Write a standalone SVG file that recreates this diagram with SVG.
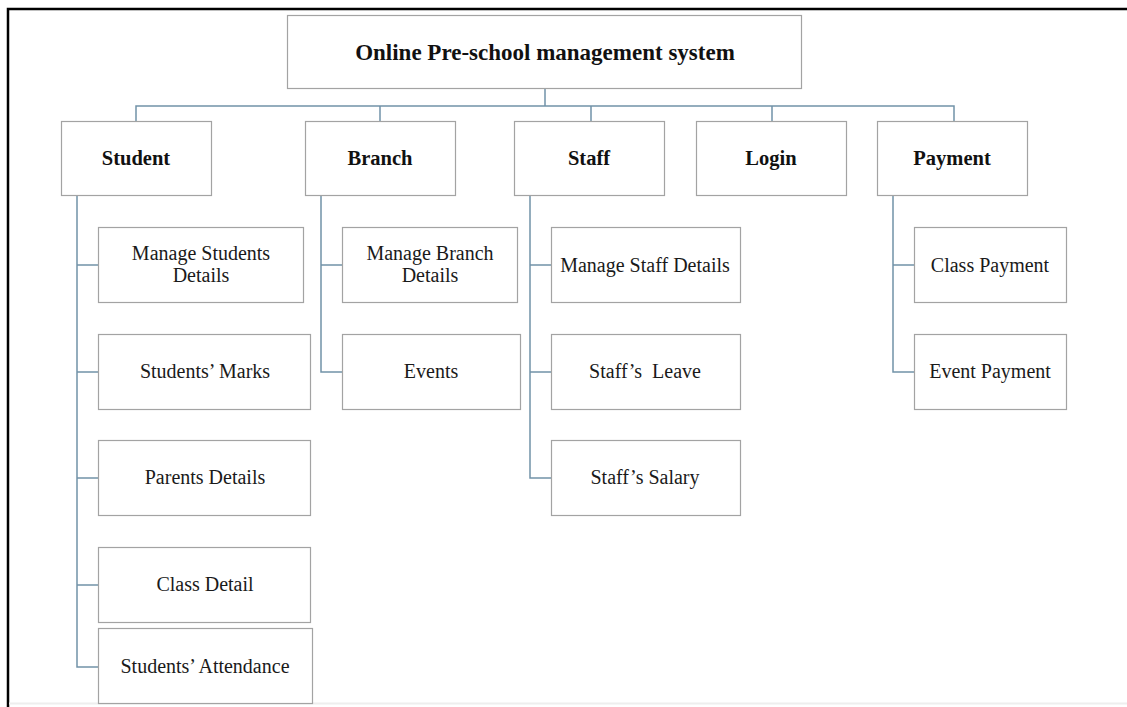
<svg xmlns="http://www.w3.org/2000/svg" width="1127" height="707" viewBox="0 0 1127 707">
  <style>
    .box { fill: #ffffff; stroke: #a3a3a3; stroke-width: 1.2; }
    .title { font-family: "Liberation Serif", "Times New Roman", serif; font-weight: bold; font-size: 23px; fill: #111; text-anchor: middle; }
    .head { font-family: "Liberation Serif", "Times New Roman", serif; font-weight: bold; font-size: 20.5px; fill: #111; text-anchor: middle; }
    .item { font-family: "Liberation Serif", "Times New Roman", serif; font-size: 20px; fill: #1a1a1a; text-anchor: middle; }
    .wire { fill: none; stroke: #7192a8; stroke-width: 1.5; }
  </style>

  <rect width="1127" height="707" fill="#ffffff"/>
  <!-- page frame -->
  <path d="M8,707 V9 H1127" fill="none" stroke="#000" stroke-width="2.5"/>
  <line x1="9" y1="703.5" x2="1127" y2="703.5" stroke="#eeeeee" stroke-width="2"/>

  <!-- connectors -->
  <g id="connectors" class="wire">
    <path d="M545,89 V106"/>
    <path d="M136,121 V106 H954 V121"/>
    <path d="M380,106 V121"/>
    <path d="M591,106 V121"/>
    <path d="M772,106 V121"/>
    <!-- Student branch -->
    <path d="M77,196 V667 H98"/>
    <path d="M77,265 H98 M77,372 H98 M77,478 H98 M77,585 H98"/>
    <!-- Branch branch -->
    <path d="M321,196 V372 H342 M321,265 H342"/>
    <!-- Staff branch -->
    <path d="M530,196 V478 H551 M530,265 H551 M530,372 H551"/>
    <!-- Payment branch -->
    <path d="M893,196 V372 H914 M893,265 H914"/>
  </g>

  <!-- root -->
  <g id="root">
    <rect class="box" x="287.5" y="15.5" width="514" height="73"/>
    <text class="title" x="545" y="60">Online Pre-school management system</text>
  </g>

  <!-- first level -->
  <g id="student">
    <rect class="box" x="61.5" y="121.5" width="150" height="74"/>
    <text class="head" x="136" y="165">Student</text>
  </g>
  <g id="branch">
    <rect class="box" x="305.5" y="121.5" width="150" height="74"/>
    <text class="head" x="380" y="165">Branch</text>
  </g>
  <g id="staff">
    <rect class="box" x="514.5" y="121.5" width="150" height="74"/>
    <text class="head" x="589" y="165">Staff</text>
  </g>
  <g id="login">
    <rect class="box" x="696.5" y="121.5" width="150" height="74"/>
    <text class="head" x="771" y="165">Login</text>
  </g>
  <g id="payment">
    <rect class="box" x="877.5" y="121.5" width="150" height="74"/>
    <text class="head" x="952" y="165">Payment</text>
  </g>

  <!-- Student items -->
  <g id="manage-students-details">
    <rect class="box" x="98.5" y="227.5" width="205" height="75"/>
    <text class="item" x="201" y="260">Manage Students</text>
    <text class="item" x="201" y="282">Details</text>
  </g>
  <g id="students-marks">
    <rect class="box" x="98.5" y="334.5" width="212" height="75"/>
    <text class="item" x="205" y="378">Students’ Marks</text>
  </g>
  <g id="parents-details">
    <rect class="box" x="98.5" y="440.5" width="212" height="75"/>
    <text class="item" x="205" y="484">Parents Details</text>
  </g>
  <g id="class-detail">
    <rect class="box" x="98.5" y="547.5" width="212" height="75"/>
    <text class="item" x="205" y="591">Class Detail</text>
  </g>
  <g id="students-attendance">
    <rect class="box" x="98.5" y="628.5" width="214" height="75"/>
    <text class="item" x="205" y="673">Students’ Attendance</text>
  </g>

  <!-- Branch items -->
  <g id="manage-branch-details">
    <rect class="box" x="342.5" y="227.5" width="175" height="75"/>
    <text class="item" x="430" y="260">Manage Branch</text>
    <text class="item" x="430" y="282">Details</text>
  </g>
  <g id="events">
    <rect class="box" x="342.5" y="334.5" width="178" height="75"/>
    <text class="item" x="431" y="378">Events</text>
  </g>

  <!-- Staff items -->
  <g id="manage-staff-details">
    <rect class="box" x="551.5" y="227.5" width="189" height="75"/>
    <text class="item" x="645" y="271.5">Manage Staff Details</text>
  </g>
  <g id="staff-leave">
    <rect class="box" x="551.5" y="334.5" width="189" height="75"/>
    <text class="item" x="645" y="378" xml:space="preserve">Staff’s  Leave</text>
  </g>
  <g id="staff-salary">
    <rect class="box" x="551.5" y="440.5" width="189" height="75"/>
    <text class="item" x="645" y="484">Staff’s Salary</text>
  </g>

  <!-- Payment items -->
  <g id="class-payment">
    <rect class="box" x="914.5" y="227.5" width="152" height="75"/>
    <text class="item" x="990" y="271.5">Class Payment</text>
  </g>
  <g id="event-payment">
    <rect class="box" x="914.5" y="334.5" width="152" height="75"/>
    <text class="item" x="990" y="378">Event Payment</text>
  </g>
</svg>
